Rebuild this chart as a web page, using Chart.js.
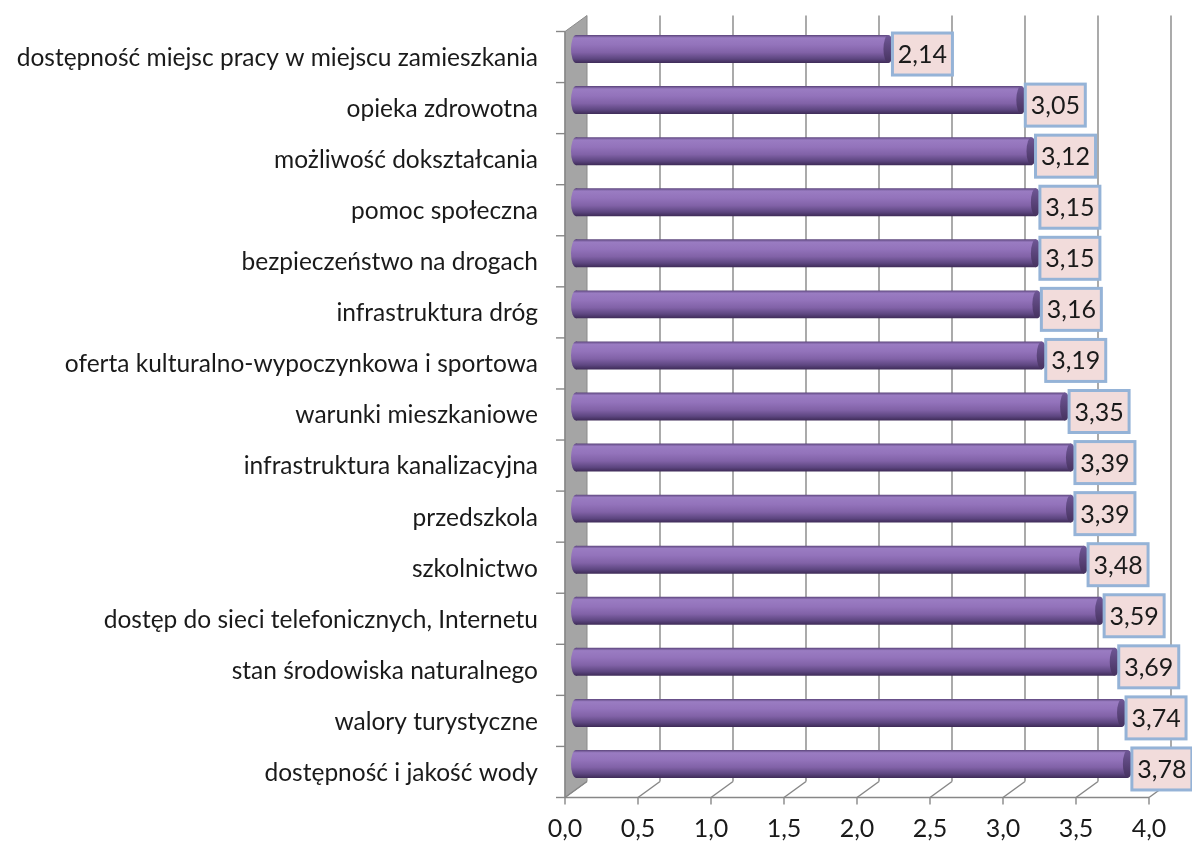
<!DOCTYPE html>
<html>
<head>
<meta charset="utf-8">
<script src="https://cdn.jsdelivr.net/npm/chart.js@4.4.1/dist/chart.umd.min.js"></script>
<style>
  html, body { margin: 0; padding: 0; background: #fff; }
  #wrap { width: 1192px; height: 843px; }
</style>
</head>
<body>
<div id="wrap"><canvas id="chart" width="1192" height="843"></canvas></div>
<script>
const categories = [
    'dostępność miejsc pracy w miejscu zamieszkania',
    'opieka zdrowotna',
    'możliwość dokształcania',
    'pomoc społeczna',
    'bezpieczeństwo na drogach',
    'infrastruktura dróg',
    'oferta kulturalno-wypoczynkowa i sportowa',
    'warunki mieszkaniowe',
    'infrastruktura kanalizacyjna',
    'przedszkola',
    'szkolnictwo',
    'dostęp do sieci telefonicznych, Internetu',
    'stan środowiska naturalnego',
    'walory turystyczne',
    'dostępność i jakość wody'
];
const scores = [2.14, 3.05, 3.12, 3.15, 3.15, 3.16, 3.19, 3.35, 3.39, 3.39, 3.48, 3.59, 3.69, 3.74, 3.78];
const axisMin = 0;
const axisMax = 4;
const axisStep = 0.5;

const FONT = "Lato, 'Open Sans', sans-serif";
const DX = 11, DY = 8; // depth offset of the 3D frame

const fmt = (v, d) => v.toFixed(d).replace('.', ',');

function barGradient(ctx, top, bottom) {
    const g = ctx.createLinearGradient(0, top, 0, bottom);
    g.addColorStop(0, '#5a447a');
    g.addColorStop(0.1, '#9a7cc2');
    g.addColorStop(0.35, '#9373bb');
    g.addColorStop(0.62, '#8162a7');
    g.addColorStop(0.85, '#5d4680');
    g.addColorStop(1, '#3e2b57');
    return g;
}

// gray wall, back grid and floor
const frame3d = {
    id: 'frame3d',
    beforeDatasetsDraw(chart) {
        const { ctx, chartArea: a, scales: { x } } = chart;
        const x0 = x.getPixelForValue(axisMin);
        ctx.save();
        // side wall
        ctx.beginPath();
        ctx.moveTo(x0 - DX, a.top + DY);
        ctx.lineTo(x0 + DX, a.top - DY);
        ctx.lineTo(x0 + DX, a.bottom - DY);
        ctx.lineTo(x0 - DX, a.bottom + DY);
        ctx.closePath();
        ctx.fillStyle = '#a5a5a5';
        ctx.fill();
        ctx.strokeStyle = '#8a8a8a';
        ctx.lineWidth = 1;
        ctx.stroke();

        ctx.strokeStyle = '#878787';
        ctx.lineWidth = 1.4;
        x.ticks.forEach(t => {
            const px = x.getPixelForValue(t.value);
            if (t.value > axisMin) {
                ctx.beginPath();
                ctx.moveTo(px + DX, a.top - DY);
                ctx.lineTo(px + DX, a.bottom - DY);
                ctx.stroke();
            }
            ctx.beginPath();
            ctx.moveTo(px - DX, a.bottom + DY);
            ctx.lineTo(px + DX, a.bottom - DY);
            ctx.stroke();
            ctx.beginPath();
            ctx.moveTo(px - DX, a.bottom + DY);
            ctx.lineTo(px - DX, a.bottom + DY + 7);
            ctx.stroke();
        });
        // front x axis
        ctx.beginPath();
        ctx.moveTo(x0 - DX, a.bottom + DY);
        ctx.lineTo(x.getPixelForValue(axisMax) - DX, a.bottom + DY);
        ctx.stroke();
        // front y axis with category ticks
        ctx.beginPath();
        ctx.moveTo(x0 - DX, a.top + DY);
        ctx.lineTo(x0 - DX, a.bottom + DY);
        ctx.stroke();
        const step = (a.bottom - a.top) / categories.length;
        for (let i = 0; i <= categories.length; i++) {
            const py = a.top + i * step + DY;
            ctx.beginPath();
            ctx.moveTo(x0 - DX - 9, py);
            ctx.lineTo(x0 - DX, py);
            ctx.stroke();
        }
        ctx.restore();
    },
    afterDatasetsDraw(chart) {
        const { ctx } = chart;
        const meta = chart.getDatasetMeta(0);
        ctx.save();
        meta.data.forEach((bar, i) => {
            const h = bar.height;
            const top = bar.y - h / 2, bottom = bar.y + h / 2;
            // left rounded end
            ctx.beginPath();
            ctx.ellipse(bar.base, bar.y, 5, h / 2, 0, 0, Math.PI * 2);
            ctx.fillStyle = barGradient(ctx, top, bottom);
            ctx.fill();
            // right end cap
            ctx.beginPath();
            ctx.ellipse(bar.x, bar.y, 5, h / 2, 0, 0, Math.PI * 2);
            const g = ctx.createLinearGradient(0, top, 0, bottom);
            g.addColorStop(0, '#6f5796');
            g.addColorStop(1, '#46325f');
            ctx.fillStyle = g;
            ctx.fill();

            // value box
            const bw = 60, bh = 42;
            const bx = bar.x + 4, by = bar.y + 5 - bh / 2;
            ctx.fillStyle = '#f2dcdb';
            ctx.fillRect(bx, by, bw, bh);
            ctx.strokeStyle = '#95b3d7';
            ctx.lineWidth = 3;
            ctx.strokeRect(bx, by, bw, bh);
            ctx.fillStyle = '#1a1a1a';
            ctx.font = '25px ' + FONT;
            ctx.textAlign = 'center';
            ctx.textBaseline = 'middle';
            ctx.fillText(fmt(scores[i], 2), bx + bw / 2, by + bh / 2 + 1);
        });
        ctx.restore();
    }
};

new Chart(document.getElementById('chart'), {
    type: 'bar',
    data: {
        labels: categories,
        datasets: [{
            data: scores,
            backgroundColor: (c) => {
                const ys = c.chart.scales.y;
                const cy = ys ? ys.getPixelForValue(c.dataIndex) : NaN;
                if (!Number.isFinite(cy)) return '#8f6fb5';
                return barGradient(c.chart.ctx, cy - 14, cy + 14);
            },
            borderWidth: 0,
            barPercentage: 0.75,
            categoryPercentage: 0.73
        }]
    },
    options: {
        indexAxis: 'y',
        responsive: false,
        animation: false,
        layout: { padding: { top: 23.5, right: 32, left: 0, bottom: 0 } },
        plugins: {
            legend: { display: false },
            tooltip: { enabled: false }
        },
        scales: {
            x: {
                min: axisMin,
                max: axisMax,
                afterFit: (s) => { s.height = 53.5; s.paddingLeft = 0; s.paddingRight = 0; },
                grid: { display: false, drawTicks: false },
                border: { display: false },
                ticks: {
                    stepSize: axisStep,
                    padding: 24,
                    labelOffset: -DX,
                    color: '#1a1a1a',
                    font: { family: FONT, size: 25 },
                    callback: (v) => fmt(v, 1)
                }
            },
            y: {
                afterFit: (s) => { s.width = 576; s.paddingTop = 0; s.paddingBottom = 0; },
                grid: { display: false, drawTicks: false },
                border: { display: false },
                ticks: {
                    padding: 38,
                    labelOffset: DY + 1,
                    color: '#1a1a1a',
                    font: { family: FONT, size: 24.5 }
                }
            }
        }
    },
    plugins: [frame3d]
});
</script>
</body>
</html>
